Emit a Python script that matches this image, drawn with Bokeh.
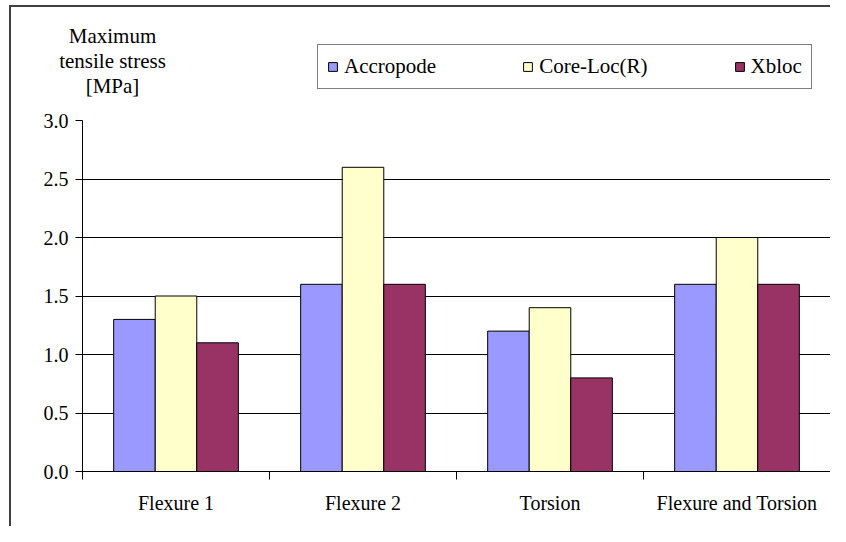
import numpy as np
from bokeh.plotting import figure
from bokeh.layouts import column
from bokeh.models import (ColumnDataSource, FixedTicker, Legend, LegendItem, Label,
                          Span, Range1d, NumeralTickFormatter)
from bokeh.embed import file_html
from bokeh.resources import INLINE

categories = ["Flexure 1", "Flexure 2", "Torsion", "Flexure and Torsion"]
series_names = ["Accropode", "Core-Loc(R)", "Xbloc"]
accropode = [1.3, 1.6, 1.2, 1.6]
core_loc = [1.5, 2.6, 1.4, 2.0]
xbloc = [1.1, 1.6, 0.8, 1.6]
colors = ["#9999FF", "#FFFFCC", "#993366"]
y_ticks = [0.0, 0.5, 1.0, 1.5, 2.0, 2.5, 3.0]
y_title = "Maximum\ntensile stress\n[MPa]"

FONT = "Liberation Serif"
AX_FS = "20px"
LG_FS = "21px"

n = len(categories)
idx = np.arange(n)
bar_w = 1 / 4.5

W = 830
H_TOP = 107
H_MAIN = 419

series = [accropode, core_loc, xbloc]
sources = [ColumnDataSource(dict(x=idx + (k - 1) * bar_w, top=vals)) for k, vals in enumerate(series)]

# ---------------- main chart ----------------
p = figure(width=W, height=H_MAIN, output_backend="svg", toolbar_location=None,
           x_range=Range1d(-0.5, n - 0.5), y_range=Range1d(y_ticks[0], y_ticks[-1]),
           min_border_left=82, min_border_right=0, min_border_top=13, min_border_bottom=55)
p.frame_align = False
p.background_fill_color = "white"
p.border_fill_alpha = 0
p.outline_line_color = None

for src, col in zip(sources, colors):
    p.vbar(x="x", top="top", width=bar_w, bottom=0, source=src,
           fill_color=col, line_color="black", line_width=1)

# x axis: labels at category centres, ticks at category boundaries
p.xaxis.ticker = FixedTicker(ticks=list(idx), minor_ticks=list(np.arange(n + 1) - 0.5))
p.xaxis.major_label_overrides = {int(i): c for i, c in zip(idx, categories)}
p.xaxis.major_tick_out = 0
p.xaxis.major_tick_in = 0
p.xaxis.minor_tick_out = 8
p.xaxis.minor_tick_in = 0
p.xaxis.minor_tick_line_color = "black"
p.xaxis.major_label_standoff = 12
p.xgrid.visible = False

# y axis
p.yaxis.ticker = FixedTicker(ticks=y_ticks, minor_ticks=[])
p.yaxis.formatter = NumeralTickFormatter(format="0.0")
p.yaxis.major_tick_out = 7
p.yaxis.major_tick_in = 0
p.yaxis.major_label_standoff = 7
p.ygrid.grid_line_color = "black"
p.ygrid.grid_line_width = 1

for ax in (p.xaxis, p.yaxis):
    ax.axis_line_color = "black"
    ax.major_tick_line_color = "black"
    ax.major_label_text_font = FONT
    ax.major_label_text_font_size = AX_FS
    ax.major_label_text_color = "black"

p.add_layout(Span(location=n - 0.5, dimension="height", line_color="#808080", line_width=1))

# ---------------- header (legend + axis title) ----------------
h = figure(width=W, height=H_TOP, output_backend="svg", toolbar_location=None,
           x_range=Range1d(-0.5, n - 0.5), y_range=Range1d(y_ticks[0], y_ticks[-1]),
           x_axis_location=None, y_axis_location=None, min_border=0)
h.frame_align = False
h.outline_line_color = None
h.background_fill_alpha = 0
h.border_fill_alpha = 0
h.grid.visible = False

# key entries: same data and styles as the chart's bars, hidden in the header itself
key_renderers = [h.vbar(x="x", top="top", width=bar_w, bottom=0, source=src,
                        fill_color=c, line_color="black", line_width=1, visible=False)
                 for src, c in zip(sources, colors)]

legend = Legend(items=[LegendItem(label=s, renderers=[r]) for s, r in zip(series_names, key_renderers)],
                orientation="horizontal", location=(317, 18))
legend.border_line_color = "black"
legend.border_line_width = 1
legend.background_fill_color = "white"
legend.background_fill_alpha = 1
legend.inactive_fill_alpha = 0
legend.label_text_font = FONT
legend.label_text_font_size = LG_FS
legend.label_text_color = "black"
legend.glyph_width = 11
legend.glyph_height = 11
legend.label_standoff = 6
legend.padding = 9
legend.spacing = 86
legend.margin = 0
h.add_layout(legend)

h.add_layout(Label(x=112, y=84, x_units="screen", y_units="screen", text=y_title,
                   text_align="center", text_baseline="top", text_font=FONT,
                   text_font_size=LG_FS, text_line_height=1.06, text_color="black"))

frame_styles = {
    "background-color": "white",
    "background-image": "linear-gradient(#404040, #404040), linear-gradient(#404040, #404040)",
    "background-size": "2px 100%, 100% 2px",
    "background-position": "9px 5px, 9px 5px",
    "background-repeat": "no-repeat",
}
layout = column(h, p, spacing=0, styles=frame_styles)

open("out.html", "w").write(file_html(layout, INLINE))
